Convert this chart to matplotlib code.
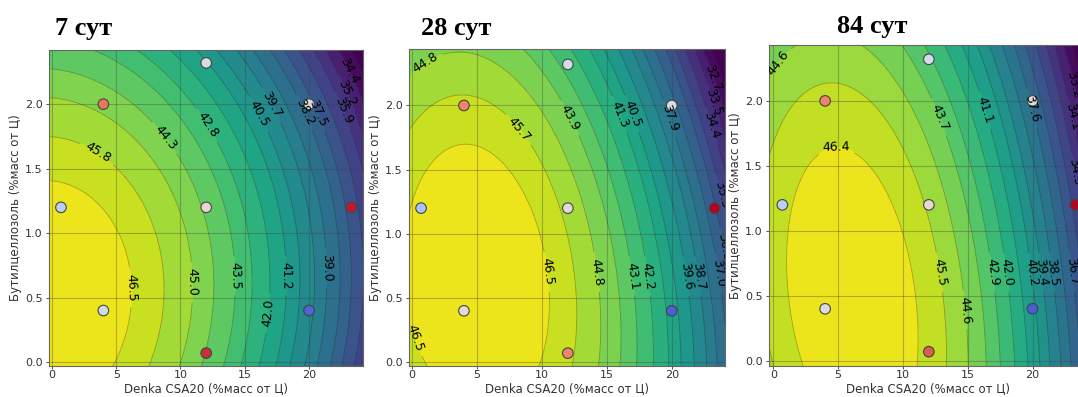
import numpy as np
import matplotlib
matplotlib.use("Agg")
import matplotlib.pyplot as plt
from matplotlib.colors import Normalize

# Experimental design points (central composite design), same for every age
design_x = [0.7, 4.0, 4.0, 12.0, 12.0, 12.0, 20.0, 20.0, 23.3]
design_y = [1.2, 2.0, 0.4, 2.32, 1.2, 0.07, 2.0, 0.4, 1.2]

titles = ["7 сут", "28 сут", "84 сут"]

# Relative deviation of each measured point from the fitted surface
dev_7 = [-0.24, 0.66, -0.10, -0.04, 0.10, 0.90, 0.00, -0.88, 0.96]
dev_28 = [-0.36, 0.60, 0.04, -0.06, 0.04, 0.60, -0.04, -0.90, 1.00]
dev_84 = [-0.24, 0.60, 0.00, -0.08, 0.08, 0.76, 0.00, -0.92, 1.00]

# Contour levels, MPa
levels_7 = [33.6, 34.4, 35.2, 35.9, 36.7, 37.5, 38.2, 39.0, 39.7, 40.5,
            41.2, 42.0, 42.8, 43.5, 44.3, 45.0, 45.8, 46.5, 47.3]
levels_28 = [31.8, 32.7, 33.5, 34.4, 35.3, 36.1, 37.0, 37.9, 38.7, 39.6,
             40.5, 41.3, 42.2, 43.1, 43.9, 44.8, 45.7, 46.5, 47.4]
levels_84 = [32.3, 33.2, 34.1, 34.9, 35.8, 36.7, 37.6, 38.5, 39.4, 40.2,
             41.1, 42.0, 42.9, 43.7, 44.6, 45.5, 46.4, 47.3]

# Labelled isoline positions (x, y) and their values
lab7_x = [6.07, 10.9, 14.3, 16.7, 18.3, 21.5, 3.6, 8.9, 12.1, 16.2, 16.8, 19.9, 20.7, 22.6, 22.9, 23.2]
lab7_y = [0.58, 0.62, 0.67, 0.38, 0.67, 0.73, 1.63, 1.75, 1.84, 1.93, 1.98, 1.95, 1.93, 1.95, 2.08, 2.26]
lab7_v = [46.5, 45.0, 43.5, 42.0, 41.2, 39.0, 45.8, 44.3, 42.8, 40.5, 39.7, 38.2, 37.5, 35.9, 35.2, 34.4]

lab28_x = [0.86, 8.2, 11.9, 16.2, 16.8, 19.8, 23.0, 23.2, 23.3, 23.9, 23.8, 23.9, 21.9, 21.2, 18.1, 16.8, 14.1, 10.1, 0.23]
lab28_y = [2.36, 1.81, 1.89, 1.94, 1.93, 1.90, 1.84, 2.03, 2.22, 1.31, 0.89, 0.70, 0.67, 0.67, 0.67, 0.67, 0.70, 0.70, 0.19]
lab28_v = [44.8, 45.7, 43.9, 41.3, 40.5, 37.9, 34.4, 33.5, 32.7, 35.3, 36.1, 37.0, 38.7, 39.6, 42.2, 43.1, 44.8, 46.5, 46.5]

lab84_x = [0.77, 4.9, 12.7, 16.3, 20.2, 12.8, 14.9, 16.9, 18.0, 19.9, 20.7, 21.5, 23.1, 23.2, 23.1, 23.1]
lab84_y = [2.26, 1.57, 1.87, 1.93, 1.95, 0.68, 0.39, 0.68, 0.68, 0.68, 0.68, 0.68, 0.69, 1.45, 1.88, 2.12]
lab84_v = [44.6, 46.4, 43.7, 41.1, 37.6, 45.5, 44.6, 42.9, 42.0, 40.2, 39.4, 38.5, 36.7, 34.9, 34.1, 33.2]

# Further points on isolines (band edges), used for the response-surface fit
iso7_x = [5.0, 3.2, 0.0, 0.0, 0.0, 0.0, 24.0]
iso7_y = [0.0, 1.26, 1.40, 1.76, 2.03, 2.28, 1.0]
iso7_v = [46.5, 46.5, 46.5, 45.8, 45.0, 44.3, 36.7]

iso28_x = [10.0, 10.8, 3.7, 0.0, 3.7, 0.0]
iso28_y = [0.0, 1.26, 1.59, 1.30, 2.07, 1.80]
iso28_v = [46.5, 46.5, 46.5, 46.5, 45.7, 45.7]

iso84_x = [1.9, 11.1, 1.45, 10.7, 2.1, 9.8, 6.2, 0.0, 5.8, 0.0]
iso84_y = [0.0, 0.0, 0.5, 0.5, 1.22, 1.22, 1.62, 1.95, 2.10, 2.20]
iso84_v = [46.4, 46.4, 46.4, 46.4, 46.4, 46.4, 46.4, 45.5, 45.5, 44.6]


def poly_terms(x, y):
    return np.stack([np.ones_like(x), x, y, x * x, x * y, y * y,
                     x * x * y, x * y * y], axis=-1)


def response_surface(xs, ys, vs, gx, gy):
    A = poly_terms(np.asarray(xs, float), np.asarray(ys, float))
    coef, *_ = np.linalg.lstsq(A, np.asarray(vs, float), rcond=None)
    return poly_terms(gx, gy) @ coef


panels = [
    dict(title=titles[0], dev=dev_7, levels=levels_7,
         lab=(lab7_x, lab7_y, lab7_v), iso=(iso7_x, iso7_y, iso7_v),
         rect=[49, 50, 363, 366], xlim=(-0.23, 24.2), ylim=(-0.03, 2.42),
         title_xy=(55, 35)),
    dict(title=titles[1], dev=dev_28, levels=levels_28,
         lab=(lab28_x, lab28_y, lab28_v), iso=(iso28_x, iso28_y, iso28_v),
         rect=[409, 49, 725, 366], xlim=(-0.23, 24.1), ylim=(-0.03, 2.44),
         title_xy=(421, 35)),
    dict(title=titles[2], dev=dev_84, levels=levels_84,
         lab=(lab84_x, lab84_y, lab84_v), iso=(iso84_x, iso84_y, iso84_v),
         rect=[769, 45, 1087, 366], xlim=(-0.33, 24.2), ylim=(-0.04, 2.43),
         title_xy=(837, 33)),
]

W, H = 1078, 397
fig = plt.figure(figsize=(W / 100, H / 100), dpi=100)

gx, gy = np.meshgrid(np.linspace(-0.5, 24.5, 260), np.linspace(-0.1, 2.5, 200))
norm_dev = Normalize(-1, 1)

for p in panels:
    l, t, r, b = p["rect"]
    ax = fig.add_axes([l / W, (H - b) / H, (r - l) / W, (b - t) / H])

    lx, ly, lv = p["lab"]
    ix, iy, iv = p["iso"]
    z = response_surface(list(lx) + list(ix), list(ly) + list(iy),
                         list(lv) + list(iv), gx, gy)

    # the top band runs up to the surface maximum, so it is filled in one colour
    fill_levels = list(p["levels"][:-1]) + [max(p["levels"][-1], float(z.max()) + 0.01)]
    ax.contourf(gx, gy, z, levels=fill_levels, cmap="viridis", extend="min")
    ax.scatter(design_x, design_y, c=p["dev"], cmap="coolwarm", norm=norm_dev,
               s=58, edgecolors="#444444", linewidths=0.8, zorder=3)

    # isolines, one set per level so each can carry its own labels
    for v in p["levels"][:-1]:
        cs = ax.contour(gx, gy, z, levels=[v],
                        colors=[(0.1, 0.1, 0.1, 0.35)], linewidths=0.6)
        spots = [(x, y) for x, y, val in zip(lx, ly, lv) if val == v]
        if spots:
            ax.clabel(cs, manual=spots, inline=True, fmt="%.1f",
                      fontsize=9, colors="k")

    ax.set_xlim(*p["xlim"])
    ax.set_ylim(*p["ylim"])
    ax.set_xticks([0, 5, 10, 15, 20])
    ax.set_yticks([0.0, 0.5, 1.0, 1.5, 2.0])
    ax.grid(True, color="0.25", alpha=0.35, linewidth=0.8)
    ax.tick_params(labelsize=8, colors="#333333", length=2, width=0.6)
    ax.tick_params(axis="x", pad=1.2)
    ax.tick_params(axis="y", pad=2.5)
    for s in ax.spines.values():
        s.set_color("#666666")
        s.set_linewidth(0.8)
    ax.set_xlabel("Denka CSA20 (%масс от Ц)", fontsize=8.5, color="#333333", labelpad=1)
    ax.set_ylabel("Бутилцеллозоль (%масс от Ц)", fontsize=8.5, color="#333333", labelpad=2)

    tx, ty = p["title_xy"]
    fig.text(tx / W, (H - ty) / H, p["title"], fontsize=19, fontweight="bold",
             family=["Liberation Serif", "DejaVu Serif"], va="baseline", ha="left")

fig.savefig("out.png", dpi=100)
